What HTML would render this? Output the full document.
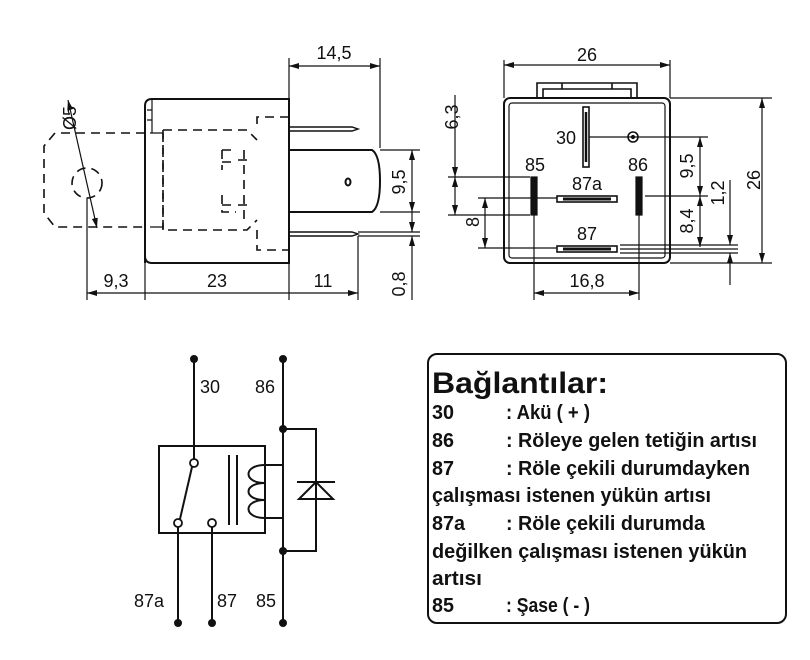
<!DOCTYPE html>
<html><head><meta charset="utf-8"><style>
html,body{margin:0;padding:0;background:#fff}
svg{display:block}
.t{font-family:"Liberation Sans",sans-serif;font-size:18px;fill:#111}
.b{font-family:"Liberation Sans",sans-serif;font-size:20px;font-weight:bold;fill:#111}
</style></head><body>
<svg width="810" height="660" viewBox="0 0 810 660" xmlns="http://www.w3.org/2000/svg">
<defs>
<marker id="a" viewBox="0 0 10 6" refX="10" refY="3" markerWidth="10" markerHeight="6" orient="auto-start-reverse" markerUnits="userSpaceOnUse"><path d="M0,0L10,3L0,6z" fill="#111"/></marker>
</defs>
<g stroke="#111" fill="none" stroke-width="1.2">
<!-- LEFT VIEW -->
<path d="M145,263V106Q145,99 152,99H289V263H152Q145,263 145,256" stroke-width="2"/>
<path d="M152,99V133M147,110H152M147,120H152"/>
<g stroke-dasharray="9,6" stroke-width="1.6">
<path d="M145,133H55L44,146V213L55,227H145"/>
<circle cx="87" cy="183" r="15"/>
<path d="M289,117H257V130M163,130H247L257,140M163,130V230H247L257,220M257,230V250H289"/>
<path d="M163,133V230"/>
<path d="M222,150H236M222,150V170M222,162H232M222,195V212H236M222,205H232M244,150V225M238,160H250M238,205H250"/>
</g>
<path d="M150,133H163M150,227H163"/>
<path d="M68,100L97,228" marker-end="url(#a)" marker-start="url(#a)"/>
<path d="M289,127H352L358,129L352,131H289M289,232H352L358,234L352,236H289" stroke-width="1.4"/>
<path d="M289,150H372Q380,155 380,181Q380,207 372,212H289" stroke-width="2"/>
<ellipse cx="348" cy="182" rx="2.5" ry="3.5" stroke-width="2"/>
<path d="M289,58V99M380,58V148"/>
<path d="M289,66H380" marker-start="url(#a)" marker-end="url(#a)"/>
<path d="M380,150H420M380,212H420M358,232H420M358,236H420"/>
<path d="M412,150V212" marker-start="url(#a)" marker-end="url(#a)"/>
<path d="M412,212V232" marker-end="url(#a)"/>
<path d="M412,300V236" marker-end="url(#a)"/>
<path d="M87,198V300M145,263V300M289,263V300M358,236V300"/>
<path d="M87,293H145M145,293H289M289,293H358" marker-start="url(#a)" marker-end="url(#a)"/>
<!-- RIGHT VIEW -->
<rect x="504" y="98" width="166" height="165" rx="6" stroke-width="2"/>
<rect x="509" y="103" width="156" height="155" rx="3"/>
<path d="M537,98V83H637V98M543,98V89H631V98M562,83V89M612,83V89" stroke-width="1.6"/>
<path d="M504,60V98M670,60V98M670,98H772M670,263H772"/>
<path d="M504,65H670" marker-start="url(#a)" marker-end="url(#a)"/>
<path d="M762,98V263" marker-start="url(#a)" marker-end="url(#a)"/>
<rect x="583" y="107" width="6" height="60" stroke-width="1.6"/>
<path d="M586,112V162" stroke-width="2.5"/>
<circle cx="633" cy="137" r="5" stroke-width="1.6"/><circle cx="633" cy="137" r="1.5" fill="#111"/>
<path d="M589,137H708M645,196H708M620,245H738M620,249H738M620,253H738"/>
<rect x="531" y="177" width="6" height="38" fill="#111"/>
<rect x="636" y="177" width="6" height="38" fill="#111"/>
<rect x="557" y="196" width="60" height="6" stroke-width="1.6"/>
<path d="M563,199H611" stroke-width="3"/>
<rect x="557" y="246" width="60" height="6" stroke-width="1.6"/>
<path d="M563,249H611" stroke-width="3"/>
<path d="M700,137V196" marker-start="url(#a)" marker-end="url(#a)"/>
<path d="M700,196V247" marker-start="url(#a)" marker-end="url(#a)"/>
<path d="M730,180V245" marker-end="url(#a)"/>
<path d="M730,285V253" marker-end="url(#a)"/>
<path d="M448,177H530M448,215H530M478,198H557M478,248H557"/>
<path d="M455,95V177" marker-end="url(#a)"/>
<path d="M455,177V215" marker-start="url(#a)" marker-end="url(#a)"/>
<path d="M485,198V248" marker-start="url(#a)" marker-end="url(#a)"/>
<path d="M534,215V300M639,215V300"/>
<path d="M534,293H639" marker-start="url(#a)" marker-end="url(#a)"/>
<!-- SCHEMATIC -->
<g stroke-width="2">
<rect x="159" y="446" width="106" height="87"/>
<path d="M194,359V459M178,527V623M212,527V623M283,359V623"/>
<path d="M192,467L180,519"/>
<path d="M229,455V525M237,455V525"/>
<path d="M265,465H283M265,518H283"/>
<path d="M265,465C243,465 243,483 265,483C243,483 243,500 265,500C243,500 243,518 265,518"/>
<path d="M283,429H316V551H283"/>
<path d="M297,482H335M316,482L299,499H333Z"/>
</g>
<g fill="#fff" stroke-width="1.8">
<circle cx="194" cy="463" r="4"/><circle cx="178" cy="523" r="4"/><circle cx="212" cy="523" r="4"/>
</g>
<g fill="#111" stroke="none">
<circle cx="194" cy="359" r="4"/><circle cx="283" cy="359" r="4"/><circle cx="283" cy="429" r="4"/><circle cx="283" cy="551" r="4"/>
<circle cx="178" cy="623" r="4"/><circle cx="212" cy="623" r="4"/><circle cx="283" cy="623" r="4"/>
</g>
<rect x="428" y="354" width="358" height="269" rx="9" stroke-width="2"/>
</g>
<g class="t">
<text x="334" y="59" text-anchor="middle">14,5</text>
<text x="116" y="287" text-anchor="middle">9,3</text>
<text x="217" y="287" text-anchor="middle">23</text>
<text x="323" y="287" text-anchor="middle">11</text>
<text transform="translate(405,182) rotate(-90)" text-anchor="middle">9,5</text>
<text transform="translate(405,284) rotate(-90)" text-anchor="middle">0,8</text>
<text transform="translate(76,118) rotate(-90)" text-anchor="middle">Ø5</text>
<text x="587" y="61" text-anchor="middle">26</text>
<text transform="translate(760,180) rotate(-90)" text-anchor="middle">26</text>
<text x="566" y="144" text-anchor="middle">30</text>
<text x="535" y="171" text-anchor="middle">85</text>
<text x="638" y="171" text-anchor="middle">86</text>
<text x="587" y="190" text-anchor="middle">87a</text>
<text x="587" y="240" text-anchor="middle">87</text>
<text x="587" y="287" text-anchor="middle">16,8</text>
<text transform="translate(693,166) rotate(-90)" text-anchor="middle">9,5</text>
<text transform="translate(693,221) rotate(-90)" text-anchor="middle">8,4</text>
<text transform="translate(724,193) rotate(-90)" text-anchor="middle">1,2</text>
<text transform="translate(458,117) rotate(-90)" text-anchor="middle">6,3</text>
<text transform="translate(479,222) rotate(-90)" text-anchor="middle">8</text>
<text x="200" y="393">30</text>
<text x="255" y="393">86</text>
<text x="134" y="607">87a</text>
<text x="217" y="607">87</text>
<text x="256" y="607">85</text>
</g>
<g class="b" lengthAdjust="spacingAndGlyphs">
<text x="432" y="393" font-size="30" textLength="176" lengthAdjust="spacingAndGlyphs">Bağlantılar:</text>
<text x="432" y="419" textLength="22" lengthAdjust="spacingAndGlyphs">30</text><text x="506" y="419" textLength="84" lengthAdjust="spacingAndGlyphs">: Akü ( + )</text>
<text x="432" y="447" textLength="22" lengthAdjust="spacingAndGlyphs">86</text><text x="506" y="447" textLength="251" lengthAdjust="spacingAndGlyphs">: Röleye gelen tetiğin artısı</text>
<text x="432" y="475" textLength="22" lengthAdjust="spacingAndGlyphs">87</text><text x="506" y="475" textLength="244" lengthAdjust="spacingAndGlyphs">: Röle çekili durumdayken</text>
<text x="432" y="502" textLength="279" lengthAdjust="spacingAndGlyphs">çalışması istenen yükün artısı</text>
<text x="432" y="530" textLength="33" lengthAdjust="spacingAndGlyphs">87a</text><text x="506" y="530" textLength="199" lengthAdjust="spacingAndGlyphs">: Röle çekili durumda</text>
<text x="432" y="558" textLength="315" lengthAdjust="spacingAndGlyphs">değilken çalışması istenen yükün</text>
<text x="432" y="585" textLength="50" lengthAdjust="spacingAndGlyphs">artısı</text>
<text x="432" y="612" textLength="22" lengthAdjust="spacingAndGlyphs">85</text><text x="506" y="612" textLength="84" lengthAdjust="spacingAndGlyphs">: Şase ( - )</text>
</g>
</svg>
</body></html>
